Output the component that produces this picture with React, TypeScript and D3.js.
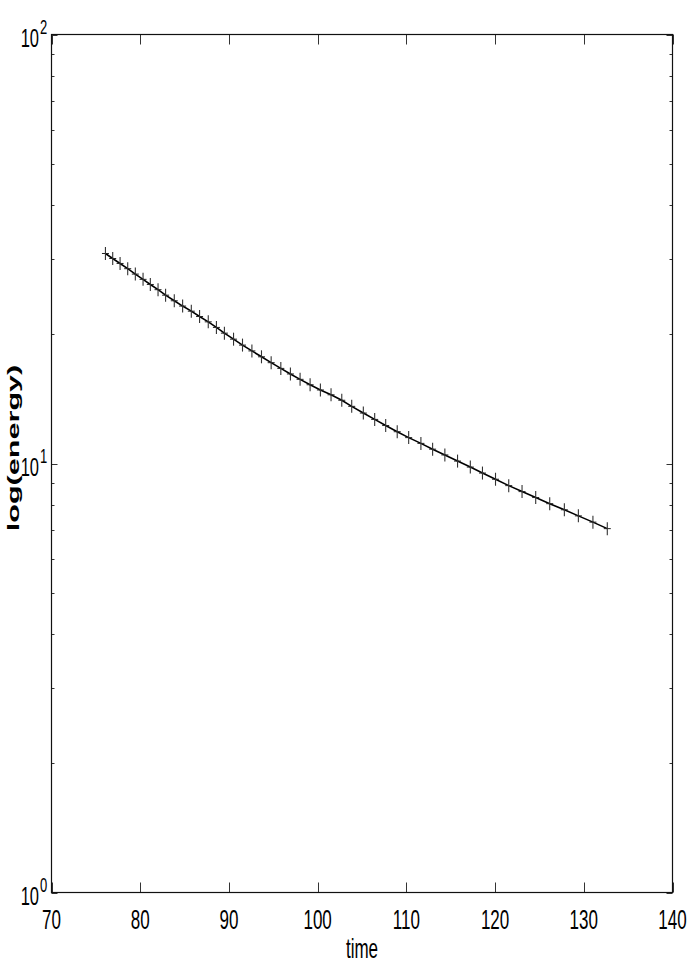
import React from "react";
import * as d3 from "d3";

const times = [
  76.08, 76.9, 77.73, 78.59, 79.45, 80.32, 81.14, 82.01, 82.86, 83.84,
  84.78, 85.76, 86.69, 87.67, 88.59, 89.49, 90.52, 91.53, 92.59, 93.67,
  94.76, 95.85, 96.93, 98.02, 99.15, 100.31, 101.51, 102.72, 103.84, 105.15,
  106.43, 107.67, 108.97, 110.26, 111.64, 112.96, 114.34, 115.77, 117.21, 118.58,
  120.05, 121.54, 123.04, 124.58, 126.16, 127.81, 129.39, 131.03, 132.65,
];
const energy = [
  30.87, 30.05, 29.26, 28.45, 27.64, 26.87, 26.14, 25.42, 24.68, 23.95,
  23.28, 22.65, 22.01, 21.39, 20.76, 20.13, 19.49, 18.88, 18.3, 17.73,
  17.18, 16.66, 16.17, 15.71, 15.26, 14.84, 14.46, 14.04, 13.59, 13.11,
  12.67, 12.26, 11.86, 11.49, 11.14, 10.8, 10.47, 10.13, 9.81, 9.5,
  9.19, 8.88, 8.6, 8.33, 8.06, 7.8, 7.55, 7.3, 7.05,
];
const xTicks = [70, 80, 90, 100, 110, 120, 130, 140];
const yMajor = [1, 10, 100];
const yExp = ["0", "1", "2"];
const yMinor = [2, 3, 4, 5, 6, 7, 8, 9, 20, 30, 40, 50, 60, 70, 80, 90];
const xLabel = "time";
const yLabel = "log(energy)";

const W = 692;
const H = 969;
const L = 51.5, R = 672.5, T = 34.5, B = 892.5;
const FONT = "'Liberation Sans', Arial, Helvetica, sans-serif";

export default function App() {
  const x = d3.scaleLinear().domain([70, 140]).range([L, R]);
  const y = d3.scaleLog().domain([1, 100]).range([B, T]);
  const pts = times.map((t, i) => [x(t), y(energy[i])] as [number, number]);
  const line = d3.line()(pts) || "";
  const tickColor = "#333";
  return (
    <svg width={W} height={H} style={{ position: "absolute", left: 0, top: 0, background: "#fff" }}>
      <rect x={0} y={0} width={W} height={H} fill="#fff" />
      {xTicks.map((v) => (
        <g key={"xt" + v}>
          <line x1={Math.round(x(v)) + 0.5} x2={Math.round(x(v)) + 0.5} y1={B} y2={B - 10} stroke={tickColor} strokeWidth={1} />
          <line x1={Math.round(x(v)) + 0.5} x2={Math.round(x(v)) + 0.5} y1={T} y2={T + 10} stroke={tickColor} strokeWidth={1} />
          <text transform={`translate(${x(v)},929) scale(1,1.6)`} textAnchor="middle" fontFamily={FONT} fontSize={17} fill="#000">
            {v}
          </text>
        </g>
      ))}
      {yMajor.map((v, i) => {
        const yy = Math.round(y(v)) + 0.5;
        return (
          <g key={"ym" + v}>
            <line x1={L} x2={L + 6} y1={yy} y2={yy} stroke={tickColor} strokeWidth={1} />
            <line x1={R} x2={R - 6} y1={yy} y2={yy} stroke={tickColor} strokeWidth={1} />
            <text transform={`translate(39,${y(v) + 12}) scale(1,1.6)`} textAnchor="end" fontFamily={FONT} fontSize={16.5} fill="#000">
              10
            </text>
            <text transform={`translate(40,${y(v) - 1}) scale(1,1.6)`} textAnchor="start" fontFamily={FONT} fontSize={13} fill="#000">
              {yExp[i]}
            </text>
          </g>
        );
      })}
      {yMinor.map((v) => {
        const yy = Math.round(y(v)) + 0.5;
        return (
          <g key={"yn" + v}>
            <line x1={L} x2={L + 3} y1={yy} y2={yy} stroke={tickColor} strokeWidth={1} />
            <line x1={R} x2={R - 3} y1={yy} y2={yy} stroke={tickColor} strokeWidth={1} />
          </g>
        );
      })}
      <rect x={L} y={T} width={R - L} height={B - T} fill="none" stroke="#111" strokeWidth={1.2} />
      <path d={line} fill="none" stroke="#000" strokeWidth={1.6} />
      {pts.map(([px, py], i) => (
        <g key={"m" + i}>
          <line x1={px - 3.5} x2={px + 3.5} y1={py} y2={py} stroke="#222" strokeWidth={1} />
          <line x1={px} x2={px} y1={py - 6.5} y2={py + 6.5} stroke="#333" strokeWidth={1.1} />
        </g>
      ))}
      <text transform={`translate(${(L + R) / 2},958) scale(1,1.6)`} textAnchor="middle" fontFamily={FONT} fontSize={17} fill="#000">
        {xLabel}
      </text>
      <text transform={`translate(19,448) rotate(-90) scale(1.8,1)`} textAnchor="middle" fontFamily={FONT} fontSize={17} fontWeight="bold" fill="#000">
        {yLabel}
      </text>
    </svg>
  );
}
